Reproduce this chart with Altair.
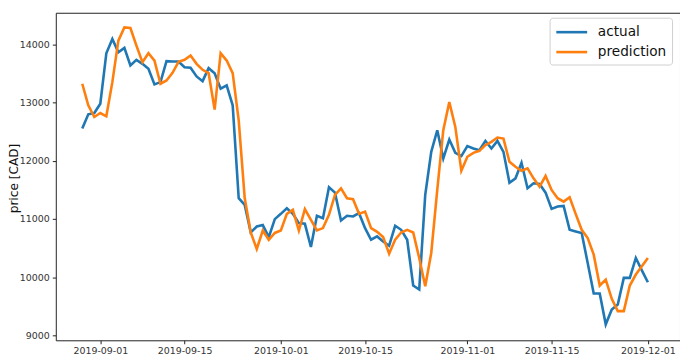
import altair as alt
import pandas as pd

start_date = "2019-08-29"

actual = [
    12553, 12798, 12820, 12980, 13846, 14092, 13864, 13938, 13636, 13733,
    13664, 13579, 13311, 13351, 13710, 13704, 13704, 13607, 13596, 13448,
    13367, 13590, 13504, 13237, 13294, 12952, 11356, 11242, 10768, 10871,
    10895, 10689, 10997, 11088, 11185, 11088, 10929, 10917, 10518, 11054,
    11014, 11544, 11452, 10973, 11054, 11043, 11100, 10843, 10643, 10700,
    10614, 10541, 10883, 10814, 10643, 9857, 9788, 11413, 12153, 12524,
    12040, 12365, 12136, 12080, 12251, 12211, 12182, 12341, 12211, 12341,
    12153, 11623, 11698, 11965, 11527, 11613, 11601, 11452, 11173, 11213,
    11225, 10814, 10785, 10757, 10245, 9720, 9720, 9190, 9446, 9532,
    9988, 9988, 10330, 10118, 9913,
]

prediction = [
    13323, 12952, 12752, 12820, 12764, 13350, 14063, 14291, 14280, 13978,
    13692, 13846, 13721, 13323, 13379, 13510, 13700, 13733, 13807, 13665,
    13562, 13504, 12878, 13846, 13721, 13504, 12695, 11356, 10768, 10484,
    10802, 10643, 10760, 10802, 11088, 11156, 10802, 11168, 10985, 10802,
    10843, 11071, 11413, 11527, 11356, 11339, 11088, 11127, 10843, 10780,
    10689, 10404, 10643, 10768, 10814, 10768, 10330, 9845, 10416, 11498,
    12524, 13008, 12581, 11828, 12068, 12136, 12170, 12268, 12324, 12399,
    12381, 11982, 11897, 11828, 11869, 11698, 11555, 11738, 11498, 11356,
    11298, 11373, 11088, 10814, 10672, 10387, 9857, 9959, 9629, 9417,
    9417, 9857, 10045, 10187, 10330,
]

series_names = ["actual", "prediction"]
series_colors = ["#1f77b4", "#ff7f0e"]
y_ticks = [9000, 10000, 11000, 12000, 13000, 14000]
x_ticks = [(2019, 9, 1), (2019, 9, 15), (2019, 10, 1), (2019, 10, 15),
           (2019, 11, 1), (2019, 11, 15), (2019, 12, 1)]

dates = pd.date_range(start_date, periods=len(actual), freq="D")
df = pd.concat([
    pd.DataFrame({"date": dates, "series": series_names[0], "price": actual}),
    pd.DataFrame({"date": dates, "series": series_names[1], "price": prediction}),
], ignore_index=True)

x_domain = [alt.DateTime(year=2019, month=8, date=24, hours=14, minutes=24),
            alt.DateTime(year=2019, month=12, date=6, hours=8, minutes=10)]
x_values = [alt.DateTime(year=y, month=m, date=d) for (y, m, d) in x_ticks]

chart = alt.Chart(df).mark_line(strokeWidth=2.6).encode(
    x=alt.X("date:T", scale=alt.Scale(domain=x_domain, nice=False),
            axis=alt.Axis(values=x_values, format="%Y-%m-%d", title=None,
                          labelFontSize=9.5, tickSize=3.5, labelPadding=2,
                          grid=False, domain=False, labelFlush=False,
                          labelOverlap=False)),
    y=alt.Y("price:Q", scale=alt.Scale(domain=[8916, 14542], nice=False, zero=False),
            axis=alt.Axis(values=y_ticks, format="d", title="price [CAD]",
                          titleFontSize=12.2, titleFontWeight="normal",
                          titleAngle=270, titleBaseline="top", titleAlign="center",
                          titleX=-48, titleY=166,
                          labelFontSize=9.5, tickSize=3.5, labelPadding=3,
                          grid=False, domain=False)),
    color=alt.Color("series:N",
                    scale=alt.Scale(domain=series_names, range=series_colors),
                    legend=alt.Legend(title=None, orient="none", legendX=496, legendY=5,
                                      symbolType="M-1,0H3", symbolSize=240,
                                      symbolStrokeWidth=2.6, labelFontSize=13.7,
                                      labelOffset=24.5, padding=5, rowPadding=3,
                                      strokeColor="#d0d0d0", cornerRadius=3,
                                      fillColor="white", labelColor="#111")),
).properties(
    width=627, height=329,
    autosize=alt.AutoSizeParams(type="none"),
    padding={"left": 48, "top": 4, "right": 0, "bottom": 16},
).configure(
    font="DejaVu Sans",
).configure_view(
    stroke="#222", strokeWidth=1,
).configure_axis(
    labelColor="#333", tickColor="#222", titleColor="#111", labelFont="DejaVu Sans",
    titleFont="DejaVu Sans",
).configure_legend(
    labelFont="DejaVu Sans",
)

chart.save("out.html", embed_options={"renderer": "svg", "actions": False})
